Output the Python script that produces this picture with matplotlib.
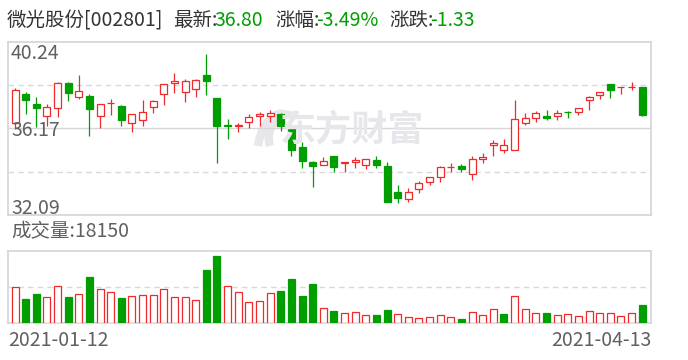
import matplotlib
matplotlib.use('Agg')
import matplotlib.pyplot as plt
from matplotlib.patches import Rectangle, PathPatch
from matplotlib.path import Path

plt.rcParams['font.family'] = ['Noto Sans CJK SC', 'DejaVu Sans']

# daily candles, 2021-01-12 .. 2021-04-13
opens = [36.41, 37.79, 37.32, 36.77, 37.12, 38.31, 37.63, 37.68, 36.77, 37.35,
         37.22, 36.41, 36.58, 37.19, 37.77, 38.32, 37.87, 38.01, 38.69, 37.59,
         36.31, 36.29, 36.46, 36.74, 36.77, 36.85, 36.28, 35.29, 34.59, 34.43,
         34.87, 34.56, 34.57, 34.43, 34.67, 34.40, 33.17, 32.83, 33.33, 33.66,
         33.87, 34.33, 34.40, 34.01, 34.74, 35.40, 35.14, 35.14, 36.41, 36.64,
         36.74, 36.77, 36.94, 36.93, 37.49, 37.73, 38.25, 38.10, 38.10, 38.12]
highs = [38.06, 37.90, 37.65, 37.30, 38.34, 38.34, 38.69, 37.79, 37.30, 37.56,
         37.27, 36.85, 37.51, 37.51, 38.25, 38.78, 38.50, 38.48, 39.67, 37.59,
         36.60, 36.41, 36.85, 36.93, 37.04, 36.90, 36.33, 35.53, 34.63, 34.82,
         34.87, 34.58, 34.81, 34.73, 34.87, 34.59, 33.50, 33.36, 33.69, 33.90,
         34.40, 34.52, 34.49, 34.87, 35.01, 35.62, 35.67, 37.51, 36.90, 36.99,
         37.04, 37.04, 36.99, 37.15, 37.68, 37.88, 38.25, 38.12, 38.36, 38.12]
lows = [36.13, 36.85, 36.22, 36.30, 36.72, 37.48, 37.54, 35.83, 36.20, 36.80,
        36.30, 36.02, 36.30, 36.88, 37.27, 37.85, 37.43, 37.66, 37.74, 34.56,
        35.66, 36.02, 36.17, 36.30, 36.49, 36.06, 34.89, 34.32, 33.42, 34.43,
        34.13, 34.13, 34.32, 34.26, 34.32, 32.72, 32.67, 32.72, 33.14, 33.50,
        33.66, 34.13, 34.13, 33.76, 34.56, 34.89, 35.03, 35.14, 36.35, 36.49,
        36.58, 36.58, 36.68, 36.82, 37.05, 37.56, 37.62, 37.81, 37.99, 36.76]
closes = [37.99, 37.52, 37.15, 37.16, 38.29, 37.82, 37.92, 37.07, 37.30, 37.38,
          36.58, 36.85, 36.94, 37.46, 38.25, 38.38, 38.40, 38.43, 38.42, 36.28,
          36.29, 36.31, 36.69, 36.85, 36.90, 36.30, 35.17, 34.65, 34.41, 34.62,
          34.37, 34.58, 34.68, 34.73, 34.46, 32.72, 32.91, 33.16, 33.58, 33.87,
          34.35, 34.36, 34.27, 34.73, 34.82, 35.47, 35.37, 36.60, 36.64, 36.88,
          36.68, 36.90, 36.92, 37.12, 37.63, 37.87, 37.99, 38.12, 38.13, 36.80]
volumes = [36650, 24300, 29450, 26370, 37680, 26370, 29450, 46920, 34590, 31510,
           25350, 27400, 28430, 28430, 34590, 26370, 26370, 23290, 54100, 68500,
           38360, 32200, 21920, 22950, 31170, 32540, 44870, 27400, 39730, 15760,
           11990, 10620, 11650, 8560, 7880, 13020, 9590, 6510, 5480, 6510,
           8560, 6510, 4450, 11650, 8560, 14730, 9590, 28080, 14730, 10620,
           10620, 8560, 9590, 7540, 12670, 10620, 10620, 7540, 10620, 18150]

price_max, price_min = 40.24, 32.09
start_date, end_date = '2021-01-12', '2021-04-13'

RED = '#ee2a2a'
GREEN = '#009e00'
BORDER = '#d3d3da'
TXT = '#606060'
DARK = '#333333'

W, H = 688, 360
fig = plt.figure(figsize=(W / 100, H / 100), dpi=100)


def fx(px):
    return px / W


def fy(py):
    return 1 - py / H


# watermark (drawn first, behind the panels)
fig.text(fx(352), fy(130), '东方财富', fontsize=26, fontweight='bold',
         color='#e7e7eb', ha='center', va='center', zorder=0)
logo = Path([(fx(258), fy(146)), (fx(262), fy(120)), (fx(276), fy(112)), (fx(284), fy(114)),
             (fx(272), fy(120)), (fx(266), fy(134)), (fx(270), fy(146))],
            [Path.MOVETO, Path.CURVE4, Path.CURVE4, Path.CURVE4,
             Path.CURVE4, Path.CURVE4, Path.CURVE4])
fig.add_artist(PathPatch(logo, transform=fig.transFigure, facecolor='none',
                         edgecolor='#e7e7eb', lw=6, zorder=0))

# price panel
ax = fig.add_axes([fx(8), fy(215), fx(643), 173 / H])
ax.patch.set_alpha(0)
# volume panel
axv = fig.add_axes([fx(8), fy(323), fx(643), 72 / H])

n = len(closes)
bw = 0.66
for i in range(n):
    up = closes[i] >= opens[i]
    col = RED if up else GREEN
    ax.vlines(i, lows[i], highs[i], color=col, lw=0.9, zorder=3)
    lo, hi = min(opens[i], closes[i]), max(opens[i], closes[i])
    ax.add_patch(Rectangle((i - bw / 2, lo), bw, max(hi - lo, 0.005),
                           facecolor='white' if up else col, edgecolor=col,
                           lw=0.9, zorder=4))

    # volume colour follows the change vs previous close
    vup = closes[i] >= (closes[i - 1] if i > 0 else opens[i])
    vcol = RED if vup else GREEN
    axv.add_patch(Rectangle((i - bw / 2, 0), bw, volumes[i],
                            facecolor='white' if vup else vcol, edgecolor=vcol,
                            lw=0.9, zorder=3))

mid = (price_max + price_min) / 2
ax.set_xlim(-0.66, 59.83)
ax.set_ylim(price_min, price_max)
ax.axhline(mid, color='#d6d6d6', lw=1.0, zorder=1)
for yv in [(price_max + mid) / 2, (price_min + mid) / 2]:
    ax.axhline(yv, color='#d8d8d8', lw=1.0, ls=(0, (4, 3)), zorder=1)

vmax = 74000
axv.set_xlim(-0.66, 59.83)
axv.set_ylim(0, vmax)
axv.axhline(vmax / 2, color='#d8d8d8', lw=1.0, ls=(0, (4, 3)), zorder=1)

for a in (ax, axv):
    a.set_xticks([])
    a.set_yticks([])
    for s in a.spines.values():
        s.set_color(BORDER)
        s.set_linewidth(1.2)

# y labels inside panel
fs = 14
fig.text(fx(11), fy(43), f'{price_max:.2f}', fontsize=fs, color=TXT, va='top')
fig.text(fx(11), fy(130), f'{mid:.2f}', fontsize=fs, color=TXT, va='center')
fig.text(fx(11), fy(214), f'{price_min:.2f}', fontsize=fs, color=TXT, va='baseline')

# header
fig.text(fx(7), fy(21), '微光股份[002801]', fontsize=fs, color=DARK, va='center')
fig.text(fx(173), fy(21), '最新:', fontsize=fs, color=DARK, va='center')
fig.text(fx(214), fy(21), f'{closes[-1]:.2f}', fontsize=fs, color=GREEN, va='center')
chg = closes[-1] - closes[-2]
fig.text(fx(275), fy(21), '涨幅:', fontsize=fs, color=DARK, va='center')
fig.text(fx(316), fy(21), f'{chg / closes[-2] * 100:.2f}%', fontsize=fs, color=GREEN, va='center')
fig.text(fx(389), fy(21), '涨跌:', fontsize=fs, color=DARK, va='center')
fig.text(fx(430), fy(21), f'{chg:.2f}', fontsize=fs, color=GREEN, va='center')

fig.text(fx(11), fy(232), f'成交量:{volumes[-1]}', fontsize=fs, color=TXT, va='center')
fig.text(fx(8), fy(341), start_date, fontsize=fs, color=TXT, va='center')
fig.text(fx(651), fy(341), end_date, fontsize=fs, color=TXT, va='center', ha='right')

fig.savefig('out.png', dpi=100)
